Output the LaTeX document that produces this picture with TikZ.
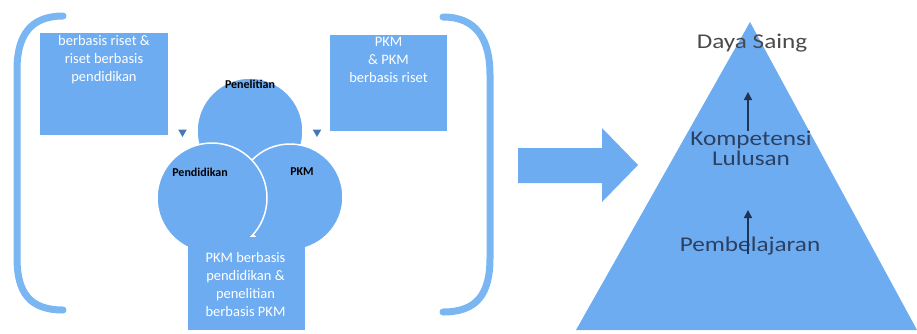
\documentclass[tikz,border=0pt]{standalone}
\usepackage{fontspec}
\setmainfont{Carlito}
\newfontfamily\pyrfont[FakeStretch=1.2]{Carlito}
\usetikzlibrary{shapes.geometric,arrows.meta}
\definecolor{blu}{RGB}{110,172,242}
\definecolor{brk}{RGB}{122,182,242}
\definecolor{tri}{RGB}{70,120,185}
\definecolor{pyrtext}{RGB}{44,64,98}
\definecolor{topgray}{RGB}{74,74,74}
\definecolor{arr}{RGB}{30,52,86}
\begin{document}
\begin{tikzpicture}[x=1pt,y=-1pt,
  bx/.style={rectangle,fill=blu,draw=none,inner sep=0pt},
  bxtext/.style={text=white,font=\fontsize{14.5}{18}\selectfont,align=center,inner sep=0pt},
  circ/.style={circle,fill=blu,draw=white,line width=1.5pt,inner sep=0pt},
  circtext/.style={text=black,font=\bfseries\fontsize{12}{15}\selectfont,inner sep=0pt},
  brack/.style={draw=brk,line width=7pt,line cap=round},
  tinytri/.style={regular polygon,regular polygon sides=3,shape border rotate=180,fill=tri,inner sep=0pt,minimum size=10pt},
  pyrlabel/.style={font=\pyrfont\fontsize{21}{20}\selectfont,align=center,inner sep=0pt,text=pyrtext},
  uparr/.style={draw=arr,line width=1.4pt,-{Triangle[width=8pt,length=8pt]}}
]
\useasboundingbox (0,0) rectangle (917,333);

% brackets
\draw[brack] (63,16) .. controls (30,16) and (17,36) .. (17,70) -- (17,258) .. controls (17,293) and (30,310) .. (63,310);
\draw[brack] (443,17) .. controls (477,17) and (490,40) .. (490,75) -- (490,258) .. controls (490,294) and (477,312) .. (443,312);

% top boxes
\node[bx,minimum width=128pt,minimum height=102pt] (b1) at (104,84) {};
\node[bxtext,anchor=north] (t1) at ([yshift=-2pt]b1.north) {berbasis riset \&\\riset berbasis\\pendidikan};
\node[bx,minimum width=117pt,minimum height=96pt] (b2) at (388.5,83) {};
\node[bxtext,anchor=north] (t2) at ([yshift=-2pt]b2.north) {PKM\\\& PKM\\berbasis riset};

% small triangles
\node[tinytri] (s1) at (182.5,132) {};
\node[tinytri] (s2) at (317,132) {};

% circles
\node[circ,minimum size=106pt] (cT) at (250,131) {};
\node[circ,minimum size=106pt] (cR) at (290,197) {};
\node[circ,minimum size=110pt] (cL) at (212,198) {};
\node[circtext] (lT) at (250,84) {Penelitian};
\node[circtext] (lL) at (200,172) {Pendidikan};
\node[circtext] (lR) at (302,172) {PKM};

% bottom box
\node[bx,minimum width=117pt,minimum height=93pt] (b3) at (246.5,283.5) {};
\node[bxtext] (t3) at (245.5,285) {PKM berbasis\\pendidikan \&\\penelitian\\berbasis PKM};

% big arrow
\fill[blu] (518,148) -- (602,148) -- (602,128) -- (638,165) -- (602,202) -- (602,183) -- (518,183) -- cycle;

% pyramid
\fill[blu] (750,22) -- (917,330) -- (576,330) -- cycle;
\node[pyrlabel,text=topgray] (p1) at (752,43) {Daya Saing};
\node[pyrlabel] (p2) at (751,148) {Kompetensi\\Lulusan};
\node[pyrlabel] (p3) at (750,246) {Pembelajaran};
\coordinate (a1s) at (748,131);
\coordinate (a1e) at (748,92);
\coordinate (a2s) at (748,254);
\coordinate (a2e) at (748,210);
\draw[uparr] (a1s) -- (a1e);
\draw[uparr] (a2s) -- (a2e);
\end{tikzpicture}
\end{document}
